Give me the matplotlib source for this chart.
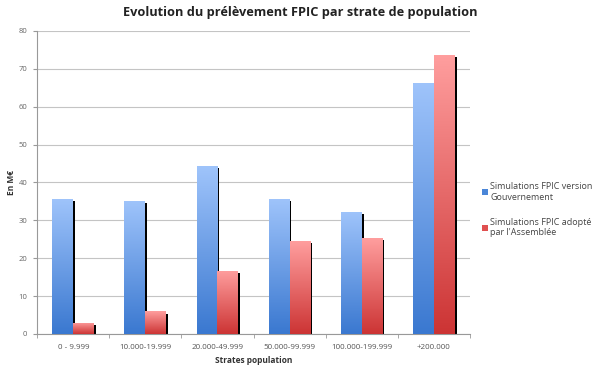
import numpy as np
import matplotlib
matplotlib.use("Agg")
import matplotlib.pyplot as plt
from matplotlib.colors import LinearSegmentedColormap

categories = ["0 - 9.999", "10.000-19.999", "20.000-49.999", "50.000-99.999", "100.000-199.999", "+200.000"]
gouvernement = [35.7, 35.2, 44.3, 35.7, 32.3, 66.3]
assemblee = [3.0, 6.0, 16.7, 24.5, 25.3, 73.6]
series_names = ["Simulations FPIC version\nGouvernement", "Simulations FPIC adopté\npar l'Assemblée"]

plt.rcParams['font.family'] = ['Open Sans', 'DejaVu Sans']

fig = plt.figure(figsize=(6, 3.68), dpi=100)
ax = fig.add_axes([0.062, 0.0924, 0.721, 0.8234])

x = np.arange(len(categories))
w = 0.29
blue_cmap = LinearSegmentedColormap.from_list("b", ["#3a78d0", "#9fc4fb"])
red_cmap = LinearSegmentedColormap.from_list("r", ["#cc3434", "#ff9e9e"])
grad = np.linspace(0, 1, 256).reshape(-1, 1)

def draw(offsets, vals, cmap, legend_color, label):
    # shadow
    ax.bar(offsets + w / 2 + 0.012, np.array(vals) - 0.6, width=0.028, color="black", zorder=2)
    bars = ax.bar(offsets, vals, width=w, color="none", zorder=3)
    for b in bars:
        x0, y0 = b.get_x(), b.get_y()
        im = ax.imshow(grad, extent=[x0, x0 + b.get_width(), y0, y0 + b.get_height()],
                       origin="lower", cmap=cmap, aspect="auto", zorder=3)
        im.set_clip_path(b)
    ax.bar([0], [0], color=legend_color, label=label)

draw(x - w / 2, gouvernement, blue_cmap, "#4a86d8", series_names[0])
draw(x + w / 2, assemblee, red_cmap, "#e05050", series_names[1])

ax.set_xlim(-0.5, len(categories) - 0.5)
ax.set_ylim(0, 80)
ax.set_yticks(np.arange(0, 81, 10))
ax.set_xticks(x)
ax.set_xticklabels(categories)
ax.set_xticks(np.arange(-0.5, len(categories), 1), minor=True)
ax.tick_params(axis="x", which="major", length=0, labelsize=5.8, colors="#555555", pad=7)
ax.tick_params(axis="x", which="minor", length=3, color="#999999", direction="out")
ax.tick_params(axis="y", length=3, color="#999999", labelsize=5.5, labelcolor="#666666", pad=4)
ax.grid(axis="y", color="#c4c4c4", linewidth=0.8, zorder=0)
ax.set_axisbelow(True)
for s in ["top", "right"]:
    ax.spines[s].set_visible(False)
for s in ["left", "bottom"]:
    ax.spines[s].set_color("#999999")
    ax.spines[s].set_linewidth(0.8)

ax.set_xlabel("Strates population", fontsize=6, fontweight="bold", color="#333333", labelpad=4)
ax.set_ylabel("En M€", fontsize=6, fontweight="bold", color="#333333", labelpad=2)
fig.suptitle("Evolution du prélèvement FPIC par strate de population", fontsize=9.2,
             fontweight="bold", x=0.5, y=0.985, color="#222222")

leg = ax.legend(loc="center left", bbox_to_anchor=(1.01, 0.41), frameon=False, fontsize=6.5,
                handlelength=0.6, handleheight=0.6, handletextpad=0.3, labelspacing=1.8,
                labelcolor="#444444")

fig.savefig("out.png", dpi=100)
